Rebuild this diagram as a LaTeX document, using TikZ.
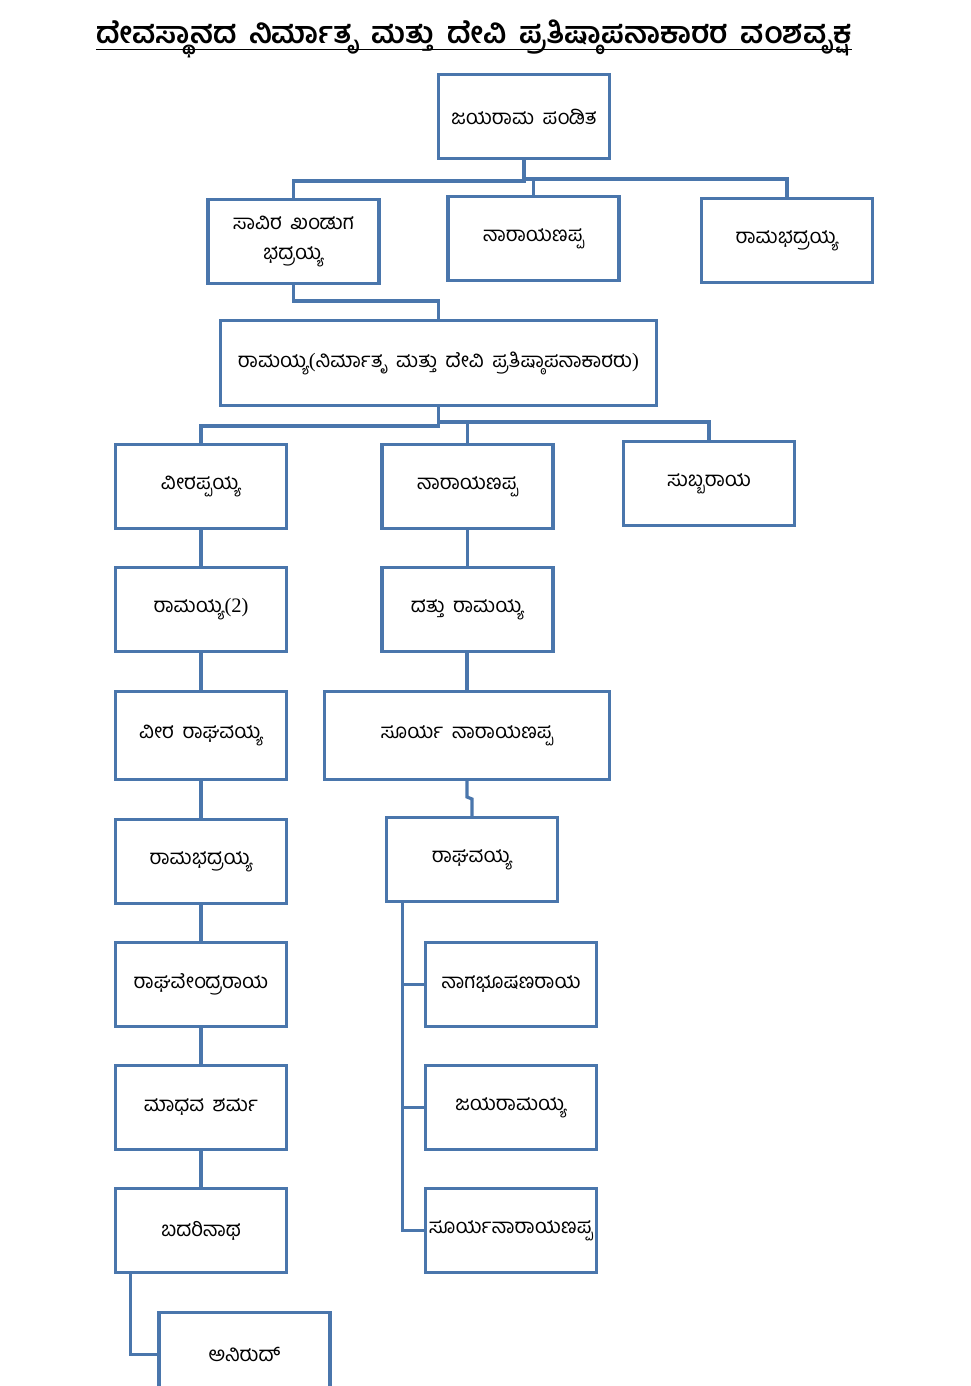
\documentclass[tikz,border=0pt]{standalone}
\usepackage{fontspec}
\newfontfamily\kn[Script=Kannada,WordSpace=1.7]{Hind Mysuru}
\newfontfamily\lat{Liberation Serif}
\usetikzlibrary{calc}
\definecolor{bx}{RGB}{74,118,172}
\begin{document}
\begin{tikzpicture}[x=1pt,y=-1pt,
  box/.style={draw=bx, line width=3.2pt, fill=white, inner sep=2pt, align=center,
    font=\kn\fontsize{20.5}{30}\selectfont, minimum width=171pt, minimum height=84pt},
  conn/.style={draw=bx, line width=3.2pt}]
\useasboundingbox (0,0) rectangle (970,1386);
\clip (0,0) rectangle (970,1386);
\fill[white] (0,0) rectangle (970,1386);
% title
\node[inner sep=0pt, font=\kn\bfseries\fontsize{30}{34}\selectfont] (T) at (474,39)
  {ದೇವಸ್ಥಾನದ ನಿರ್ಮಾತೃ ಮತ್ತು ದೇವಿ ಪ್ರತಿಷ್ಠಾಪನಾಕಾರರ ವಂಶವೃಕ್ಷ};
\draw[line width=1.8pt] ([yshift=-6pt]T.base west) -- ([yshift=-6pt]T.base east);
% boxes
\node[box] (A) at (524,116.5) {ಜಯರಾಮ ಪಂಡಿತ};
\node[box] (B1) at (293.5,241.5) {ಸಾವಿರ ಖಂಡುಗ\\ಭದ್ರಯ್ಯ};
\node[box] (B2) at (533.5,238.5) {ನಾರಾಯಣಪ್ಪ};
\node[box] (B3) at (787,240.5) {ರಾಮಭದ್ರಯ್ಯ};
\node[box, minimum width=436pt, minimum height=85pt] (R) at (438.5,363) {ರಾಮಯ್ಯ{\lat(}ನಿರ್ಮಾತೃ ಮತ್ತು ದೇವಿ ಪ್ರತಿಷ್ಠಾಪನಾಕಾರರು{\lat)}};
\node[box] (C1) at (201,486.5) {ವೀರಪ್ಪಯ್ಯ};
\node[box] (C2) at (467.5,486.5) {ನಾರಾಯಣಪ್ಪ};
\node[box] (C3) at (709,483.5) {ಸುಬ್ಬರಾಯ};
\node[box] (D1) at (201,609.5) {ರಾಮಯ್ಯ{\lat(2)}};
\node[box] (D2) at (467.5,609.5) {ದತ್ತು ರಾಮಯ್ಯ};
\node[box, minimum height=88pt] (E1) at (201,735.5) {ವೀರ ರಾಘವಯ್ಯ};
\node[box, minimum width=285pt, minimum height=88pt] (E2) at (467,735.5) {ಸೂರ್ಯ ನಾರಾಯಣಪ್ಪ};
\node[box] (F1) at (201,861.5) {ರಾಮಭದ್ರಯ್ಯ};
\node[box] (F2) at (472,859.5) {ರಾಘವಯ್ಯ};
\node[box] (G1) at (201,984.5) {ರಾಘವೇಂದ್ರರಾಯ};
\node[box] (H1) at (201,1107.5) {ಮಾಧವ ಶರ್ಮ};
\node[box] (I1) at (201,1230.5) {ಬದರಿನಾಥ};
\node[box] (J) at (244.5,1354.5) {ಅನಿರುದ್};
\node[box] (G2) at (511,984.5) {ನಾಗಭೂಷಣರಾಯ};
\node[box] (H2) at (511,1107.5) {ಜಯರಾಮಯ್ಯ};
\node[box] (I2) at (511,1230.5) {ಸೂರ್ಯನಾರಾಯಣಪ್ಪ};
% connectors
\coordinate (a1) at (524,181);
\coordinate (a2) at (526,179);
\draw[conn] (A.south) -- (a1) -| (B1.north);
\draw[conn] (a2) -| (B3.north);
\draw[conn] (a2 -| B2.north) -- (B2.north);
\coordinate (b1) at (293.5,301);
\draw[conn] (B1.south) -- (b1) -| (R.north);
\coordinate (r1) at (438.5,426);
\coordinate (r2) at (438.5,422);
\draw[conn] (R.south) -- (r1) -| (C1.north);
\draw[conn] (r2) -| (C3.north);
\draw[conn] (r2 -| C2.north) -- (C2.north);
\draw[conn] (C1.south) -- (D1.north);
\draw[conn] (C2.south) -- (D2.north);
\draw[conn] (D1.south) -- (E1.north);
\draw[conn] (D2.south -| E2.north) -- (E2.north);
\draw[conn] (E1.south) -- (F1.north);
\coordinate (e1) at (467,797);
\coordinate (e2) at (472,799);
\draw[conn] (E2.south) -- (e1) -- (e2) -- (F2.north);
\draw[conn] (F1.south) -- (G1.north);
\draw[conn] (G1.south) -- (H1.north);
\draw[conn] (H1.south) -- (I1.north);
\coordinate (f1) at ([xshift=17.5pt]F2.south west);
\draw[conn] (f1) |- (G2.west);
\draw[conn] (f1) |- (H2.west);
\draw[conn] (f1) |- (I2.west);
\coordinate (i1) at ([xshift=16.5pt]I1.south west);
\draw[conn] (i1) |- (J.west);
\end{tikzpicture}
\end{document}
